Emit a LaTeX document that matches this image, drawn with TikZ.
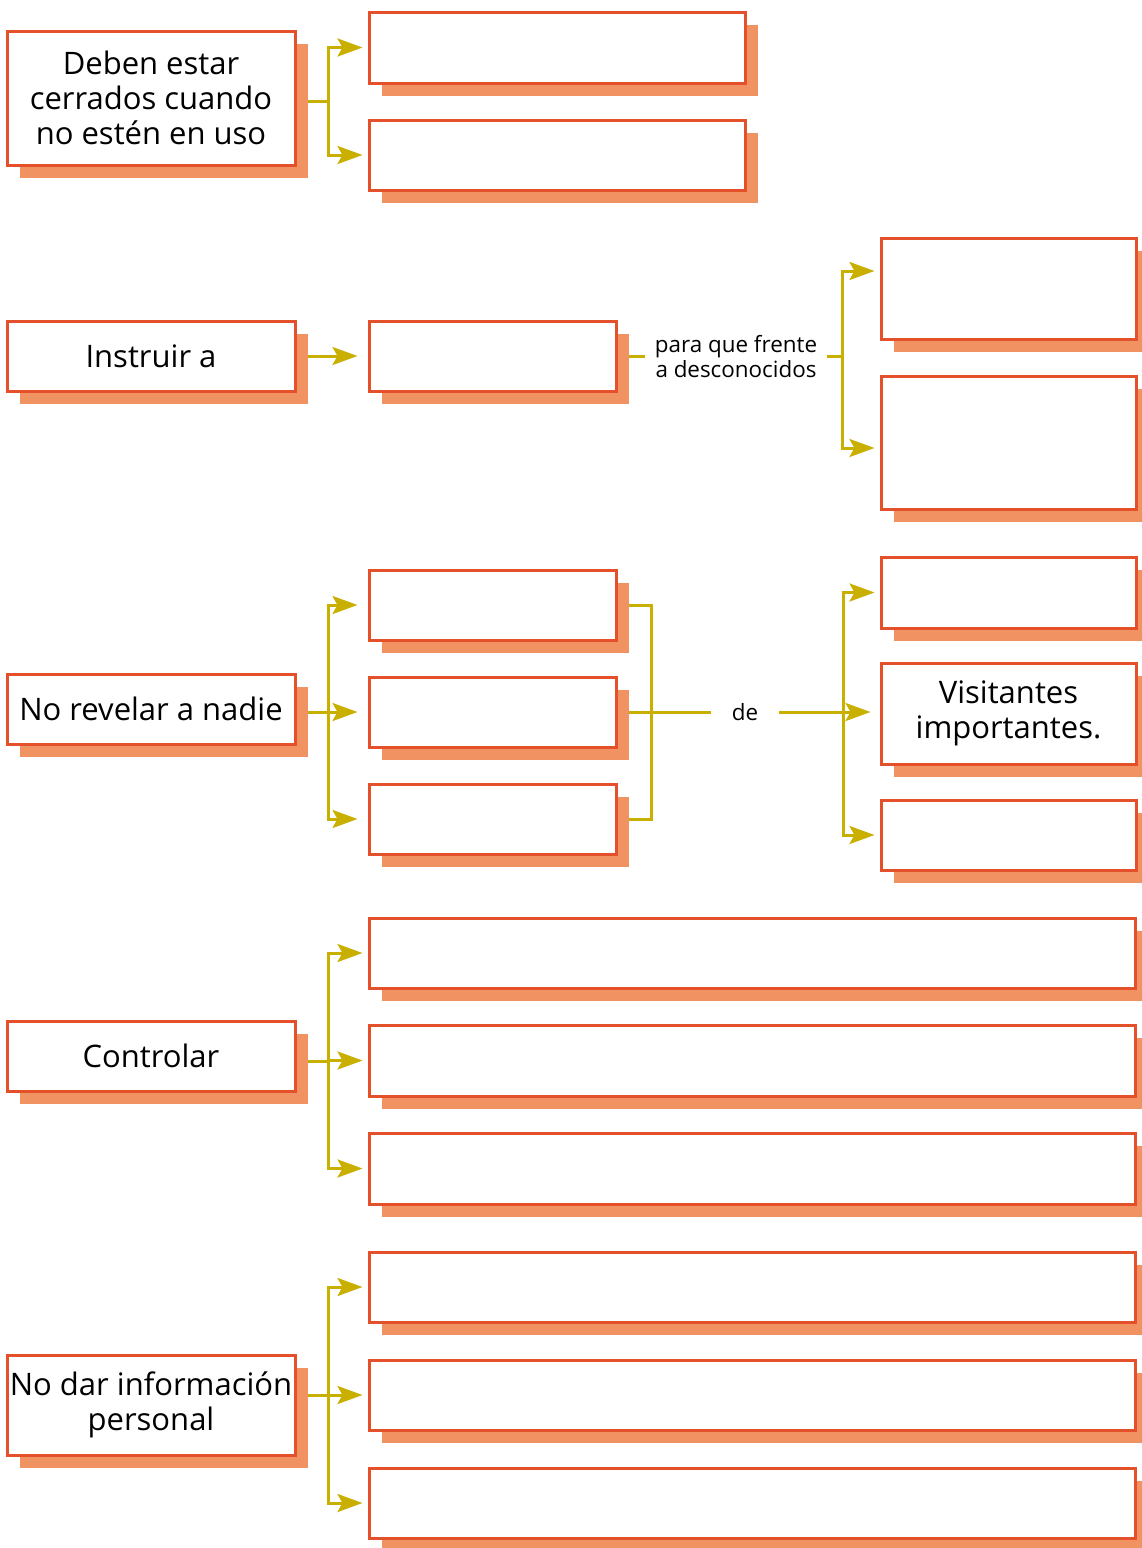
\documentclass[tikz,border=0pt]{standalone}
\usepackage{fontspec}
\setmainfont{Open Sans}
\usetikzlibrary{arrows.meta,shadows,backgrounds}
\definecolor{bordc}{HTML}{E4502A}
\definecolor{shadc}{HTML}{F19262}
\definecolor{linec}{HTML}{C9AF00}
\newcommand\bigf{\fontsize{15.5pt}{17.5pt}\selectfont}
\newcommand\smallf{\fontsize{11.2pt}{12.5pt}\selectfont}
\tikzset{
  box/.style={draw=bordc, line width=1.5pt, fill=white, inner sep=0pt, align=center, font=\bigf,
    general shadow={fill=shadc, shadow xshift=6.5pt, shadow yshift=-6.5pt}},
  lbox/.style={box, minimum width=144pt, minimum height=35pt},
  mbox/.style={box, minimum width=123.5pt, minimum height=35pt},
  rbox/.style={box, minimum width=127.5pt, minimum height=35pt},
  wbox/.style={box, minimum width=383pt, minimum height=35pt},
  abox/.style={box, minimum width=188pt, minimum height=35pt},
  small/.style={align=center, font=\smallf, inner sep=0pt},
  ln/.style={draw=linec, line width=1.5pt},
  arr/.style={ln, -{Stealth[length=12.5pt, width=9pt, inset=2.5pt]}, shorten >=2.5pt},
  arrl/.style={arr, shorten >=5pt},
}
\begin{document}
\begin{tikzpicture}[x=0.5pt,y=-0.5pt]
\useasboundingbox (0,0) rectangle (1141,1548);
% row 1
\node[lbox, minimum height=67pt] (a) at (151,98) {Deben estar\\cerrados cuando\\no estén en uso};
\node[abox, minimum height=35.5pt] (a1) at (557,47.5) {};
\node[abox] (a2) at (557,155) {};
% row 2
\node[lbox] (b) at (151,356) {Instruir a};
\node[mbox] (bm) at (492.5,356) {};
\node[small, inner xsep=5pt] (bt) at (736,357) {para que frente\\a desconocidos};
\node[rbox, minimum height=50.5pt] (b1) at (1008.5,288.5) {};
\node[rbox, minimum height=66.5pt] (b2) at (1008.5,442.5) {};
% row 3
\node[lbox] (c) at (151,709) {No revelar a nadie};
\node[mbox] (c1) at (492.5,605) {};
\node[mbox] (c2) at (492.5,712) {};
\node[mbox] (c3) at (492.5,819) {};
\node[small, inner xsep=10pt] (cde) at (745,712) {de};
\node[rbox, minimum height=35.5pt] (c4) at (1008.5,592.5) {};
\node[rbox, minimum height=50.5pt] (c5) at (1008.5,713.5) {Visitantes\\importantes.};
\node[rbox] (c6) at (1008.5,835) {};
% row 4
\node[lbox] (d) at (151,1056) {Controlar};
\node[wbox] (d1) at (752,953) {};
\node[wbox, minimum height=35.5pt] (d2) at (752,1060.5) {};
\node[wbox, minimum height=35.5pt] (d3) at (752,1168.5) {};
% row 5
\node[lbox, minimum height=50pt] (e) at (151,1405) {No dar información\\personal};
\node[wbox] (e1) at (752,1287) {};
\node[wbox] (e2) at (752,1395) {};
\node[wbox] (e3) at (752,1503) {};

\begin{scope}[on background layer]
\fill[white] (0,0) rectangle (1141,1548);
% row 1
\coordinate (ja) at (328,101);
\draw[ln] (a.east |- ja) -- (ja);
\draw[arr] (ja) |- (a1.west);
\draw[arr] (ja) |- (a2.west);
% row 2
\draw[arrl] (b.east) -- (bm.west);
\draw[ln] (bm.east) -- (bm.east -| bt.west);
\coordinate (jb) at (842,356);
\draw[ln] (bt.east |- jb) -- (jb);
\draw[arr] (jb) |- ([yshift=8.75pt]b1.west);
\draw[arr] (jb) |- ([yshift=-2.75pt]b2.west);
% row 3
\coordinate (jc) at (328,712);
\draw[ln] (c.east |- jc) -- (jc);
\draw[arrl] (jc) |- (c1.west);
\draw[arrl] (jc) |- (c2.west);
\draw[arrl] (jc) |- (c3.west);
\coordinate (kc) at (651,712);
\draw[ln] (c1.east) -| (kc);
\draw[ln] (c3.east) -| (kc);
\draw[ln] (c2.east) -- (cde.west);
\coordinate (lc) at (843,712);
\draw[arr, shorten >=4.5pt] (cde.east) -- (cde.east -| c5.west);
\draw[arr] (lc) |- (c4.west);
\draw[arr] (lc) |- (c6.west);
% row 4
\coordinate (jd) at (328,1061);
\draw[ln] (d.east |- jd) -- (jd);
\draw[arr] (jd) |- (d1.west);
\draw[arr] (jd) |- (d2.west);
\draw[arr] (jd) |- (d3.west);
% row 5
\coordinate (je) at (328,1395);
\draw[ln] (e.east |- je) -- (je);
\draw[arr] (je) |- (e1.west);
\draw[arr] (je) |- (e2.west);
\draw[arr] (je) |- (e3.west);
\end{scope}
\end{tikzpicture}
\end{document}
